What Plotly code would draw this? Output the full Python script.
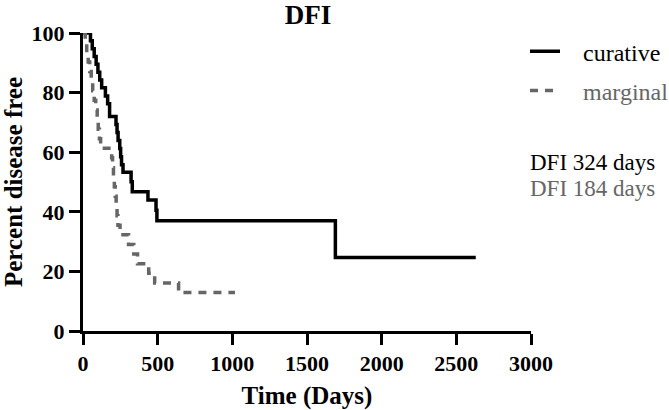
import plotly.graph_objects as go

# Curative group (Kaplan-Meier steps): time in days, percent disease free
cur_days = [0, 50, 62, 75, 88, 100, 112, 125, 150, 165, 178, 221, 228, 235, 246, 252, 258, 268,
            322, 330, 435, 489, 495, 1690, 2630]
cur_pct = [100, 97.4, 94.7, 92.1, 89.5, 86.8, 84.2, 81.6, 78.9, 76.3, 72.0, 69.3, 66.6, 63.9, 61.2,
           58.5, 55.8, 53.3, 50.1, 46.7, 44.0, 40.5, 37.0, 24.7, 24.7]

# Marginal group
mar_days = [0, 15, 25, 35, 45, 55, 65, 75, 85, 95, 102, 110, 118, 192, 198, 204, 210, 216, 222,
            228, 234, 248, 305, 340, 365, 440, 480, 640, 1018]
mar_pct = [100, 96.8, 93.5, 90.3, 87.1, 83.9, 80.6, 77.4, 74.2, 71.0, 67.7, 64.5, 61.3, 58.1, 54.8,
           51.6, 48.4, 45.2, 41.9, 38.7, 35.5, 32.3, 29.0, 25.8, 22.6, 19.4, 16.1, 12.9, 12.9]

x_ticks = [0, 500, 1000, 1500, 2000, 2500, 3000]
y_ticks = [0, 20, 40, 60, 80, 100]

series_names = ["curative", "marginal"]
median_labels = ["DFI 324 days", "DFI 184 days"]
GRAY = "#666666"
FONT = "Liberation Serif"
PAD = "\u00a0\u00a0\u00a0"

fig = go.Figure()
fig.add_trace(go.Scatter(x=cur_days, y=cur_pct, mode="lines", line_shape="hv",
                         line=dict(color="black", width=3.5), name=PAD + series_names[0],
                         legendgroup="a"))
fig.add_trace(go.Scatter(x=mar_days, y=mar_pct, mode="lines", line_shape="hv",
                         line=dict(color=GRAY, width=3.5, dash="8px,7px"),
                         name=PAD + "<span style='color:#666666'>" + series_names[1] + "</span>",
                         legendgroup="b"))

fig.update_layout(
    width=669, height=410,
    margin=dict(l=83, r=138, t=33, b=79, autoexpand=False),
    paper_bgcolor="white", plot_bgcolor="white",
    font=dict(family=FONT, color="black"),
    title=dict(text="<b>DFI</b>", x=(308 - 83) / 448, xref="paper", y=1 - 15 / 410,
               yanchor="middle", xanchor="center", font=dict(size=27, family=FONT)),
    legend=dict(x=(525 - 83) / 448, y=1.013, xanchor="left", yanchor="top",
                font=dict(size=24, family=FONT),
                tracegroupgap=5, traceorder="grouped", bgcolor="rgba(0,0,0,0)"),
    xaxis=dict(range=[0, 3000], tickvals=x_ticks, ticks="outside", ticklen=11, tickwidth=3,
               tickcolor="black", showline=True, linecolor="black", linewidth=3,
               showgrid=False, zeroline=False, automargin=False,
               tickfont=dict(size=22, family=FONT, weight="bold"),
               title=dict(text="<b>Time (Days)</b>", font=dict(size=25, family=FONT))),
    yaxis=dict(range=[0, 100], tickvals=y_ticks, ticks="outside", ticklen=11, tickwidth=3,
               tickcolor="black", showline=True, linecolor="black", linewidth=3,
               showgrid=False, zeroline=False, automargin=False,
               tickfont=dict(size=22, family=FONT, weight="bold"),
               title=dict(text="<b>Percent disease free</b>", font=dict(size=25, family=FONT))),
    annotations=[
        dict(text=median_labels[0], x=(528 - 83) / 448, y=(331 - 162) / 298, xref="paper",
             yref="paper", xanchor="left", yanchor="middle", showarrow=False,
             font=dict(size=23, family=FONT, color="black")),
        dict(text=median_labels[1], x=(528 - 83) / 448, y=(331 - 188) / 298, xref="paper",
             yref="paper", xanchor="left", yanchor="middle", showarrow=False,
             font=dict(size=23, family=FONT, color=GRAY)),
    ],
)

fig.write_html("out.html", config={"displayModeBar": False},
               post_script="document.body.style.margin='0px';")
